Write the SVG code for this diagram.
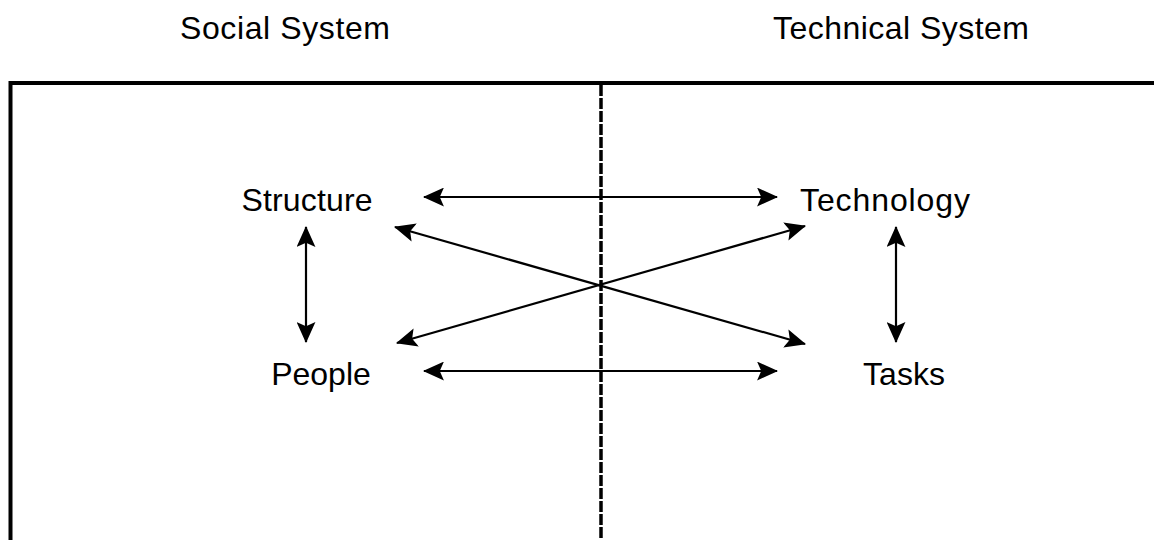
<svg xmlns="http://www.w3.org/2000/svg" width="1154" height="540" viewBox="0 0 1154 540">
<style>
text{font-family:"Liberation Sans",Arial,sans-serif;font-size:32px;fill:#000;text-anchor:middle}
.frame{fill:none;stroke:#000;stroke-width:4}
.div{stroke:#000;stroke-width:3.5;stroke-dasharray:11,2}
.c{stroke:#000;stroke-width:2.2;fill:none;marker-start:url(#ah);marker-end:url(#ah)}
</style>
<defs>
<marker id="ah" viewBox="0 0 20 18" refX="19" refY="9" markerWidth="21" markerHeight="19" markerUnits="userSpaceOnUse" orient="auto-start-reverse">
<path d="M0,0 L20,9 L0,18 L4,9 Z" fill="#000"/>
</marker>
</defs>
<rect width="1154" height="540" fill="#fff"/>
<g id="frame">
<path class="frame" d="M10.5,560 V83 H1160"/>
<line class="div" x1="601" y1="85" x2="601" y2="545"/>
</g>
<g id="social-system"><text x="285" y="39" textLength="210">Social System</text></g>
<g id="technical-system"><text x="901" y="39" textLength="256">Technical System</text></g>
<g id="structure"><text x="307" y="211" textLength="131">Structure</text></g>
<g id="technology"><text x="885" y="211" textLength="170">Technology</text></g>
<g id="people"><text x="321" y="385">People</text></g>
<g id="tasks"><text x="904" y="385">Tasks</text></g>
<g id="connectors">
<line class="c" x1="424" y1="197" x2="777" y2="197"/>
<line class="c" x1="424" y1="371" x2="777" y2="371"/>
<line class="c" x1="306" y1="227" x2="306" y2="342"/>
<line class="c" x1="896" y1="227" x2="896" y2="342"/>
<line class="c" x1="395" y1="227" x2="805" y2="344"/>
<line class="c" x1="805" y1="226" x2="397" y2="343"/>
</g>
</svg>
